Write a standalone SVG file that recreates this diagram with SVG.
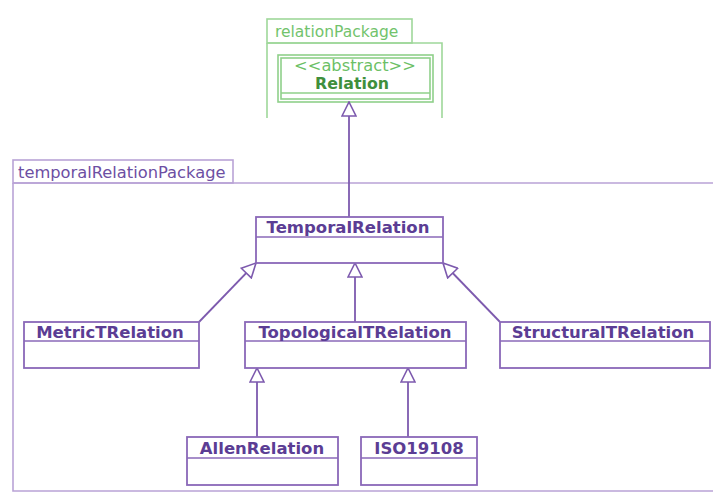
<svg xmlns="http://www.w3.org/2000/svg" width="713" height="493" viewBox="0 0 713 493">
<defs>
<style>
.pk{fill:none;stroke:#b9a3d6;stroke-width:1.6}
.gpk{fill:none;stroke:#9fd79a;stroke-width:1.6}
.cls{fill:#fff;stroke:#8a68b8;stroke-width:1.8}
.gcls{fill:#fff;stroke:#8fd08a;stroke-width:1.6}
.sep{stroke:#8a68b8;stroke-width:1.4}
.cn{font-family:"DejaVu Sans",sans-serif;font-weight:bold;font-size:16.5px;fill:#5b3d94;text-anchor:middle}
.pt{font-family:"DejaVu Sans",sans-serif;font-size:16.3px;fill:#6d4fa3}
.gt{font-family:"DejaVu Sans",sans-serif;font-size:15.5px;fill:#72c36c}
.edge{stroke:#7d5aae;stroke-width:1.8;fill:none;marker-end:url(#tri)}
</style>
<marker id="tri" viewBox="0 0 16 16" refX="15" refY="8" markerWidth="16" markerHeight="16" markerUnits="userSpaceOnUse" orient="auto">
<path d="M1,1 L15,8 L1,15 Z" fill="#fff" stroke="#7d5aae" stroke-width="1.6"/>
</marker>
</defs>
<rect width="713" height="493" fill="#fff"/>

<g id="relationPackage">
<rect class="gpk" x="267" y="19" width="145" height="24"/>
<path class="gpk" d="M267,43 H442 V118 M267,43 V118"/>
<text class="gt" x="275" y="37">relationPackage</text>
</g>

<g id="Relation">
<rect class="gcls" x="278" y="55" width="155" height="47"/>
<rect class="gcls" x="281" y="58" width="149" height="41"/>
<line x1="281" y1="93" x2="430" y2="93" stroke="#8fd08a" stroke-width="1.4"/>
<text x="355" y="71" font-family="DejaVu Sans,sans-serif" font-size="16.3" fill="#6cbf66" text-anchor="middle">&lt;&lt;abstract&gt;&gt;</text>
<text x="352" y="89" font-family="DejaVu Sans,sans-serif" font-size="15.8" font-weight="bold" fill="#3f8f3c" text-anchor="middle">Relation</text>
</g>

<g id="temporalRelationPackage">
<rect class="pk" x="13" y="160" width="220" height="23"/>
<path class="pk" d="M13,183 H713 M13,183 V491 H713"/>
<text class="pt" x="18" y="178">temporalRelationPackage</text>
</g>

<g id="connectors">
<line class="edge" x1="349" y1="217" x2="349" y2="102"/>
<line class="edge" x1="199" y1="322" x2="256" y2="263"/>
<line class="edge" x1="355" y1="322" x2="355" y2="263"/>
<line class="edge" x1="500" y1="322" x2="443" y2="263"/>
<line class="edge" x1="257" y1="437" x2="257" y2="368"/>
<line class="edge" x1="408" y1="437" x2="408" y2="368"/>
</g>

<g id="TemporalRelation">
<rect class="cls" x="256" y="217" width="187" height="46"/>
<line class="sep" x1="256" y1="237" x2="443" y2="237"/>
<text class="cn" x="348" y="233">TemporalRelation</text>
</g>

<g id="MetricTRelation">
<rect class="cls" x="24" y="322" width="175" height="46"/>
<line class="sep" x1="24" y1="341" x2="199" y2="341"/>
<text class="cn" x="110" y="338">MetricTRelation</text>
</g>

<g id="TopologicalTRelation">
<rect class="cls" x="245" y="322" width="221" height="46"/>
<line class="sep" x1="245" y1="341" x2="466" y2="341"/>
<text class="cn" x="355" y="338">TopologicalTRelation</text>
</g>

<g id="StructuralTRelation">
<rect class="cls" x="500" y="322" width="210" height="46"/>
<line class="sep" x1="500" y1="341" x2="710" y2="341"/>
<text class="cn" x="603" y="338">StructuralTRelation</text>
</g>

<g id="AllenRelation">
<rect class="cls" x="187" y="437" width="151" height="48"/>
<line class="sep" x1="187" y1="458" x2="338" y2="458"/>
<text class="cn" x="262" y="454">AllenRelation</text>
</g>

<g id="ISO19108">
<rect class="cls" x="361" y="437" width="116" height="48"/>
<line class="sep" x1="361" y1="458" x2="477" y2="458"/>
<text class="cn" x="419" y="454">ISO19108</text>
</g>
</svg>
